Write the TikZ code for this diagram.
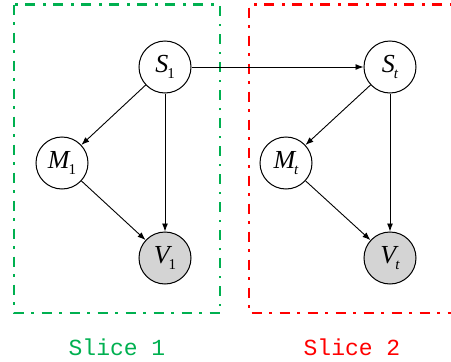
\documentclass[tikz,border=0pt]{standalone}
\usepackage{fontspec}
\setmainfont{Liberation Serif}
\newfontfamily\monofont{Liberation Mono}
\usetikzlibrary{arrows.meta}
\definecolor{sgreen}{RGB}{0,176,80}
\definecolor{sred}{RGB}{255,0,0}
\newcommand{\lbl}[2]{{\fontsize{26}{26}\selectfont\itshape #1}\kern-1pt\raisebox{-6pt}{\fontsize{15}{15}\selectfont #2}}
\begin{document}
\begin{tikzpicture}[x=1pt,y=-1pt,
  var/.style={circle,draw,line width=1pt,minimum size=52pt,inner sep=0pt,fill=white},
  obs/.style={var,fill=black!17},
  edge/.style={line width=0.9pt,-{Latex[length=8pt,width=6pt]}},
  slicebox/.style={line width=2.3pt,dash pattern=on 10pt off 7.5pt on 2.5pt off 8pt},
  slicelbl/.style={font=\monofont\fontsize{23}{23}\selectfont}]
\useasboundingbox (0,0) rectangle (451,362);
\draw[slicebox,sgreen] (14,4.5) rectangle (220,313);
\draw[slicebox,sred] (470,4.5) -- (249,4.5) -- (249,313) -- (470,313);
\node[var] (s1) at (165,67) {\lbl{S}{1}};
\node[var] (m1) at (62,163) {\lbl{M}{1}};
\node[obs] (v1) at (165,258) {\lbl{V}{1}};
\node[var] (st) at (390,67) {\lbl{S}{\itshape t}};
\node[var] (mt) at (286,163) {\lbl{M}{\itshape t}};
\node[obs] (vt) at (390,258) {\lbl{V}{\itshape t}};
\draw[edge] (s1) -- (m1);
\draw[edge] (s1) -- (v1);
\draw[edge] (m1) -- (v1);
\draw[edge] (s1) -- (st);
\draw[edge] (st) -- (mt);
\draw[edge] (st) -- (vt);
\draw[edge] (mt) -- (vt);
\node[slicelbl,text=sgreen] (l1) at (117,347) {Slice 1};
\node[slicelbl,text=sred] (l2) at (352,347) {Slice 2};
\end{tikzpicture}
\end{document}
